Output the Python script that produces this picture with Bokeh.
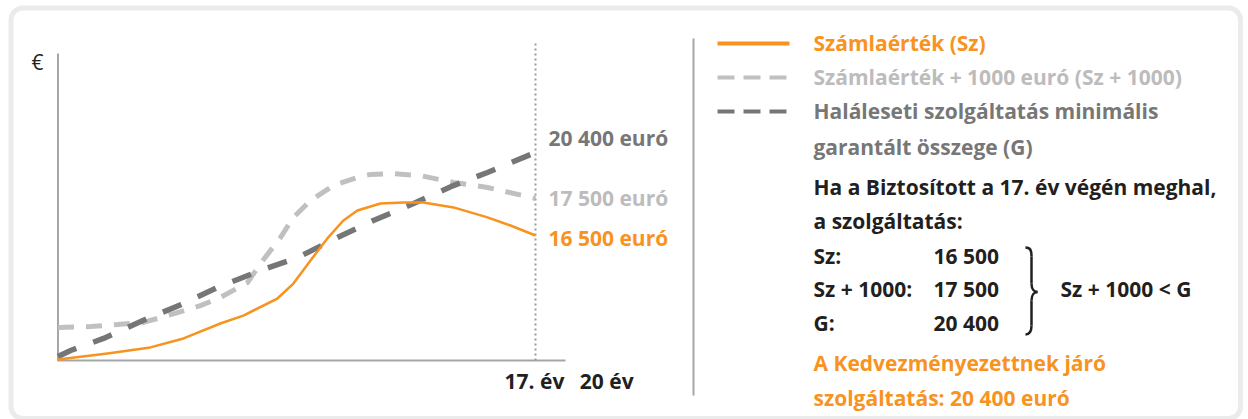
from bokeh.plotting import figure
from bokeh.models import Range1d, ColumnDataSource
from bokeh.core.properties import value
from bokeh.embed import file_html
from bokeh.resources import INLINE

# ---------------- data (schematic index: 100 = G at year 17) ----------------
sz_years = [0, 1.76, 3.29, 4.47, 5.78, 6.60, 7.81, 8.38, 8.99, 9.59, 10.16, 10.66,
            11.48, 12.30, 13.01, 14.08, 15.29, 16.11, 17]
sz_values = [0.5, 3.4, 6.3, 10.6, 17.8, 21.6, 29.8, 37.0, 48.1, 58.7, 67.3, 72.1,
             75.5, 76.0, 76.0, 73.6, 68.8, 64.9, 60.1]

sz1000_years = [0, 1.16, 2.12, 3.04, 3.90, 5.07, 5.78, 6.75, 7.21, 7.92, 8.38, 8.99,
                9.80, 10.77, 11.12, 11.84, 12.90, 14.08, 15.29, 17]
sz1000_values = [15.9, 16.3, 17.3, 18.3, 21.6, 26.4, 30.3, 37.5, 46.6, 59.1, 68.8, 76.9,
                 84.1, 88.5, 89.4, 89.9, 88.9, 85.6, 83.2, 77.9]

g_years = [0, 0.45, 1.62, 3.19, 4.47, 5.68, 7.21, 8.53, 9.95, 11.23, 12.66, 14.08, 15.29, 17]
g_values = [1.9, 4.8, 10.6, 20.2, 27.4, 35.1, 43.3, 49.5, 59.1, 67.3, 75.5, 84.1, 90.4, 100]

end_labels = ["20 400 euró", "17 500 euró", "16 500 euró"]
x_tick_labels = ["17. év", "20 év"]
x_tick_years = [17, 20]
marker_year = 17

legend_labels = ["Számlaérték (Sz)", "Számlaérték + 1000 euró (Sz + 1000)",
                 "Haláleseti szolgáltatás minimális", "garantált összege (G)"]
intro_lines = ["Ha a Biztosított a 17. év végén meghal,", "a szolgáltatás:"]
table_names = ["Sz:", "Sz + 1000:", "G:"]
table_values = ["16 500", "17 500", "20 400"]
comparison = "Sz + 1000 < G"
result_lines = ["A Kedvezményezettnek járó", "szolgáltatás: 20 400 euró"]

# ---------------- styles ----------------
ORANGE = "#f7931e"
LIGHT = "#c0c0c0"
LIGHT_TXT = "#bcbcbc"
DARK = "#767676"
DARK_TXT = "#777777"
BLACK = "#231f20"
AXIS = "#a6a6a6"
FONT = value("Open Sans")
FS = "21px"

W, H = 1248, 419
p = figure(width=W, height=H, x_range=Range1d(0, W), y_range=Range1d(H, 0),
           output_backend="svg", toolbar_location=None, min_border=0,
           x_axis_type=None, y_axis_type=None)
p.outline_line_color = None
p.background_fill_color = "white"
p.border_fill_color = "white"
p.xgrid.visible = False
p.ygrid.visible = False

# chart scales (pixel placement of the chart frame)
AX_X, X17, AX_Y, Y100 = 57.5, 535.0, 360.0, 152.0
ppy = (X17 - AX_X) / 17.0
ppv = (AX_Y - Y100) / 100.0
p.extra_x_ranges = {"yr": Range1d(-AX_X / ppy, (W - AX_X) / ppy)}
p.extra_y_ranges = {"val": Range1d((AX_Y - H) / ppv, AX_Y / ppv)}
Y_TOP_VAL = (AX_Y - 53) / ppv
X_END_YR = (565 - AX_X) / ppy
DOT_TOP_VAL = (AX_Y - 40) / ppv

# rounded frame
p.quad(left=[10.5], right=[1240], top=[7.5], bottom=[418], border_radius=12,
       fill_color=None, line_color="#ebebeb", line_width=5)

# axes
p.line([0, 0, X_END_YR], [Y_TOP_VAL, 0, 0], x_range_name="yr", y_range_name="val",
       line_color=AXIS, line_width=2, line_join="round")
# year-17 marker
p.line([marker_year, marker_year], [0, DOT_TOP_VAL], x_range_name="yr", y_range_name="val",
       line_color="#9a9a9a", line_width=2, line_dash="2 3")

# series
p.line(sz1000_years, sz1000_values, x_range_name="yr", y_range_name="val",
       line_color=LIGHT, line_width=5, line_dash="16 12")
p.line(g_years, g_values, x_range_name="yr", y_range_name="val",
       line_color=DARK, line_width=5.5, line_dash="20 18")
p.line(sz_years, sz_values, x_range_name="yr", y_range_name="val",
       line_color=ORANGE, line_width=2.5, line_join="round")

def txt(x, y, s, color, size=FS, style="bold", align="left", font=FONT):
    p.text(x=[x], y=[y], text=[s], text_color=color, text_font=font,
           text_font_style=style, text_font_size=size, text_baseline="middle",
           text_align=align)

# euro sign
txt(37, 61, "€", BLACK, size="21px", style="normal", align="center")

# end labels
for s, c, y in zip(end_labels, [DARK_TXT, LIGHT_TXT, ORANGE], [137, 197, 237]):
    txt(548, y, s, c)

# x labels
p.text(x=x_tick_years, y=[0, 0], text=x_tick_labels, x_range_name="yr", y_range_name="val",
       x_offset=[-1, -13], y_offset=[20, 20], text_color=BLACK, text_font=FONT,
       text_font_style="bold", text_font_size=FS, text_baseline="middle", text_align="center")

# divider
p.line([693, 693], [38, 395], line_color=AXIS, line_width=2)

# legend samples
p.line([717, 789], [43, 43], line_color=ORANGE, line_width=4)
p.line([717, 789], [77, 77], line_color=LIGHT, line_width=4, line_dash="17 9")
p.line([717, 789], [111, 111], line_color=DARK, line_width=4, line_dash="17 9")

TX = 813
for s, c, y in zip(legend_labels, [ORANGE, LIGHT_TXT, DARK_TXT, DARK_TXT], [42, 76, 110, 146]):
    txt(TX, y, s, c)
for s, y in zip(intro_lines, [186, 220]):
    txt(TX, y, s, BLACK)
for n, v, y in zip(table_names, table_values, [255, 288, 322]):
    txt(TX, y, n, BLACK)
    txt(933, y, v, BLACK)
txt(1060, 288, comparison, BLACK)
for s, y in zip(result_lines, [362, 397]):
    txt(TX, y, s, ORANGE)

# brace
bz = ColumnDataSource(dict(
    x0=[1025, 1031, 1037, 1031], y0=[247, 283, 291.5, 325],
    x1=[1031, 1037, 1031, 1025], y1=[256, 291.5, 300, 334],
    cx0=[1030, 1031, 1034, 1031], cy0=[247, 289, 291.5, 331],
    cx1=[1031, 1034, 1031, 1029], cy1=[250, 291.5, 294, 334]))
p.bezier(x0="x0", y0="y0", x1="x1", y1="y1", cx0="cx0", cy0="cy0", cx1="cx1", cy1="cy1",
         source=bz, line_color=BLACK, line_width=2.5)
p.segment(x0=[1031, 1031], y0=[256, 300], x1=[1031, 1031], y1=[283, 325],
          line_color=BLACK, line_width=2.5)

open("out.html", "w").write(file_html(p, INLINE))
